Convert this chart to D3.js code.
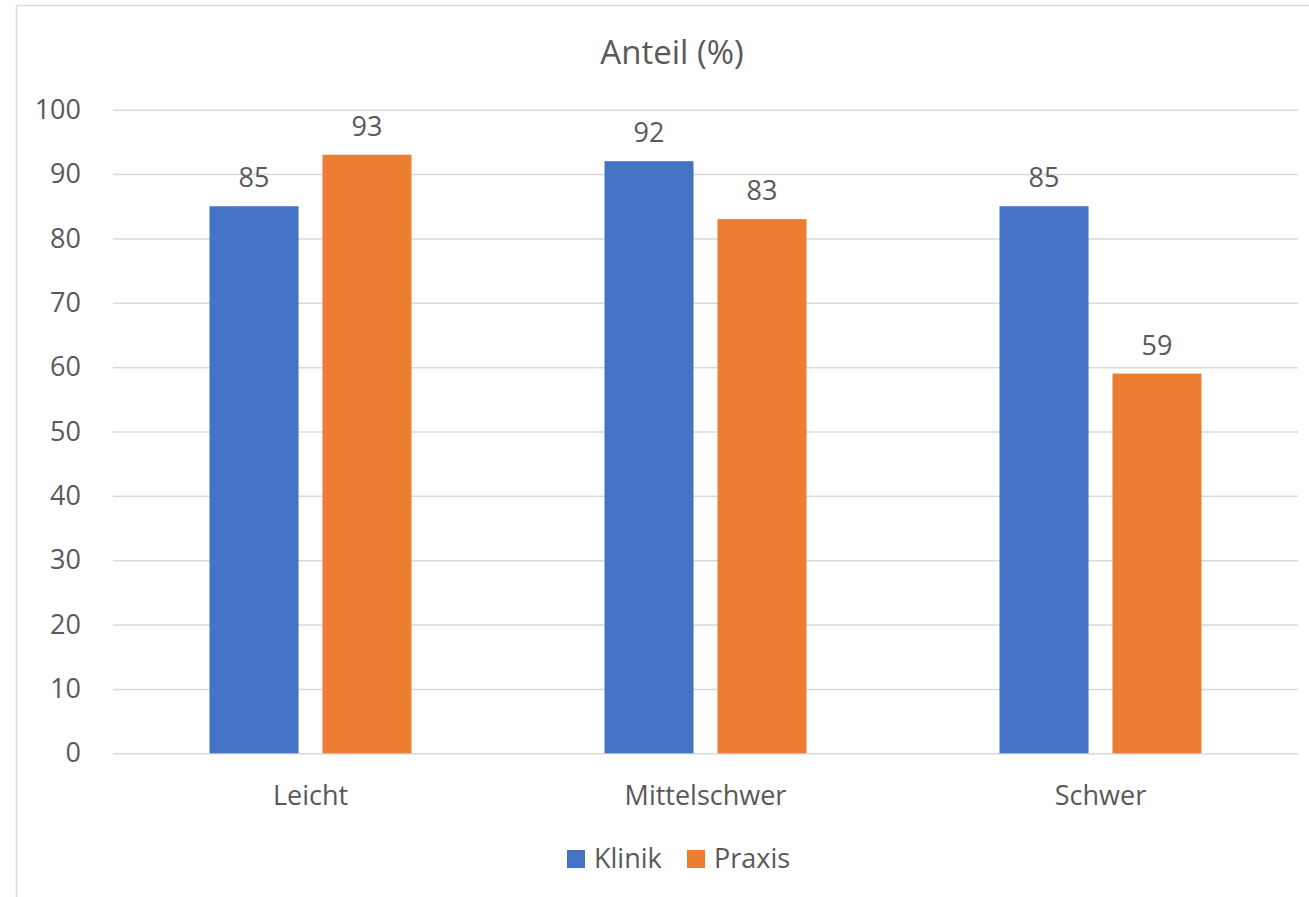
<!DOCTYPE html>
<html>
<head>
<meta charset="utf-8">
<script src="https://cdn.jsdelivr.net/npm/d3@7"></script>
<style>
  html, body { margin: 0; padding: 0; background: #fff; }
  svg { display: block; }
  text { font-family: "Open Sans", "Liberation Sans", sans-serif; fill: #595959; }
</style>
</head>
<body>
<svg id="chart" width="1309" height="897"></svg>
<script>
// Share (%) by severity, clinic vs. practice
const categories = ["Leicht", "Mittelschwer", "Schwer"];
const seriesNames = ["Klinik", "Praxis"];
const klinik = [85, 92, 85];
const praxis = [93, 83, 59];
const yTicks = [0, 10, 20, 30, 40, 50, 60, 70, 80, 90, 100];
const colors = ["#4472C4", "#ED7D31"];
const title = "Anteil (%)";

const svg = d3.select("#chart");
const W = 1309, H = 897;
const FS = 27;

// chart frame
svg.append("rect")
  .attr("x", 16.5).attr("y", 5.5)
  .attr("width", W).attr("height", H)
  .attr("fill", "#fff").attr("stroke", "#d9d9d9").attr("stroke-width", 1.5);

const plot = { left: 113, right: 1298, top: 109.7, bottom: 753.3 };

const x = d3.scaleBand().domain(categories).range([plot.left, plot.right]);
const xs = d3.scaleBand().domain(seriesNames)
  .range([x.bandwidth() / 2 - 101, x.bandwidth() / 2 + 101])
  .paddingInner(0.212);
const y = d3.scaleLinear().domain([0, 100]).range([plot.bottom, plot.top]);

// gridlines + value axis labels
const yAxis = d3.axisLeft(y).tickValues(yTicks).tickSize(-(plot.right - plot.left)).tickPadding(32);
const gy = svg.append("g").attr("transform", `translate(${plot.left},0)`).call(yAxis);
gy.select(".domain").remove();
gy.selectAll(".tick line").attr("stroke", "#d9d9d9").attr("stroke-width", 1.5);
gy.selectAll(".tick text").attr("font-size", FS).attr("fill", "#595959")
  .style("font-family", '"Open Sans", sans-serif');

// bars
const rows = categories.map((c, i) => ({ cat: c, vals: [klinik[i], praxis[i]] }));
const groups = svg.append("g").selectAll("g").data(rows).join("g")
  .attr("transform", d => `translate(${x(d.cat)},0)`);

const cells = d => d.vals.map((v, j) => ({ s: seriesNames[j], v, j }));

groups.selectAll("rect").data(cells)
  .join("rect")
  .attr("x", d => xs(d.s))
  .attr("width", xs.bandwidth())
  .attr("y", d => y(d.v))
  .attr("height", d => y(0) - y(d.v))
  .attr("fill", d => colors[d.j]);

// value labels above bars
groups.selectAll("text.val").data(cells)
  .join("text").attr("class", "val")
  .attr("x", d => xs(d.s) + xs.bandwidth() / 2)
  .attr("y", d => y(d.v) - 19)
  .attr("text-anchor", "middle")
  .attr("font-size", FS)
  .text(d => d.v);

// category axis labels
const xAxis = d3.axisBottom(x).tickSize(0).tickPadding(33);
const gx = svg.append("g").attr("transform", `translate(0,${plot.bottom})`).call(xAxis);
gx.select(".domain").remove();
gx.selectAll(".tick text").attr("font-size", FS).attr("fill", "#595959")
  .style("font-family", '"Open Sans", sans-serif');

// title
svg.append("text")
  .attr("x", 672).attr("y", 64)
  .attr("text-anchor", "middle")
  .attr("font-size", 33)
  .text(title);

// legend
const legend = svg.append("g").attr("transform", "translate(567,850)");
const li = legend.selectAll("g").data(seriesNames).join("g")
  .attr("transform", (d, i) => `translate(${i * 120},0)`);
li.append("rect").attr("width", 18).attr("height", 18).attr("fill", (d, i) => colors[i]);
li.append("text").attr("x", 27).attr("y", 18).attr("font-size", FS).text(d => d);
</script>
</body>
</html>
